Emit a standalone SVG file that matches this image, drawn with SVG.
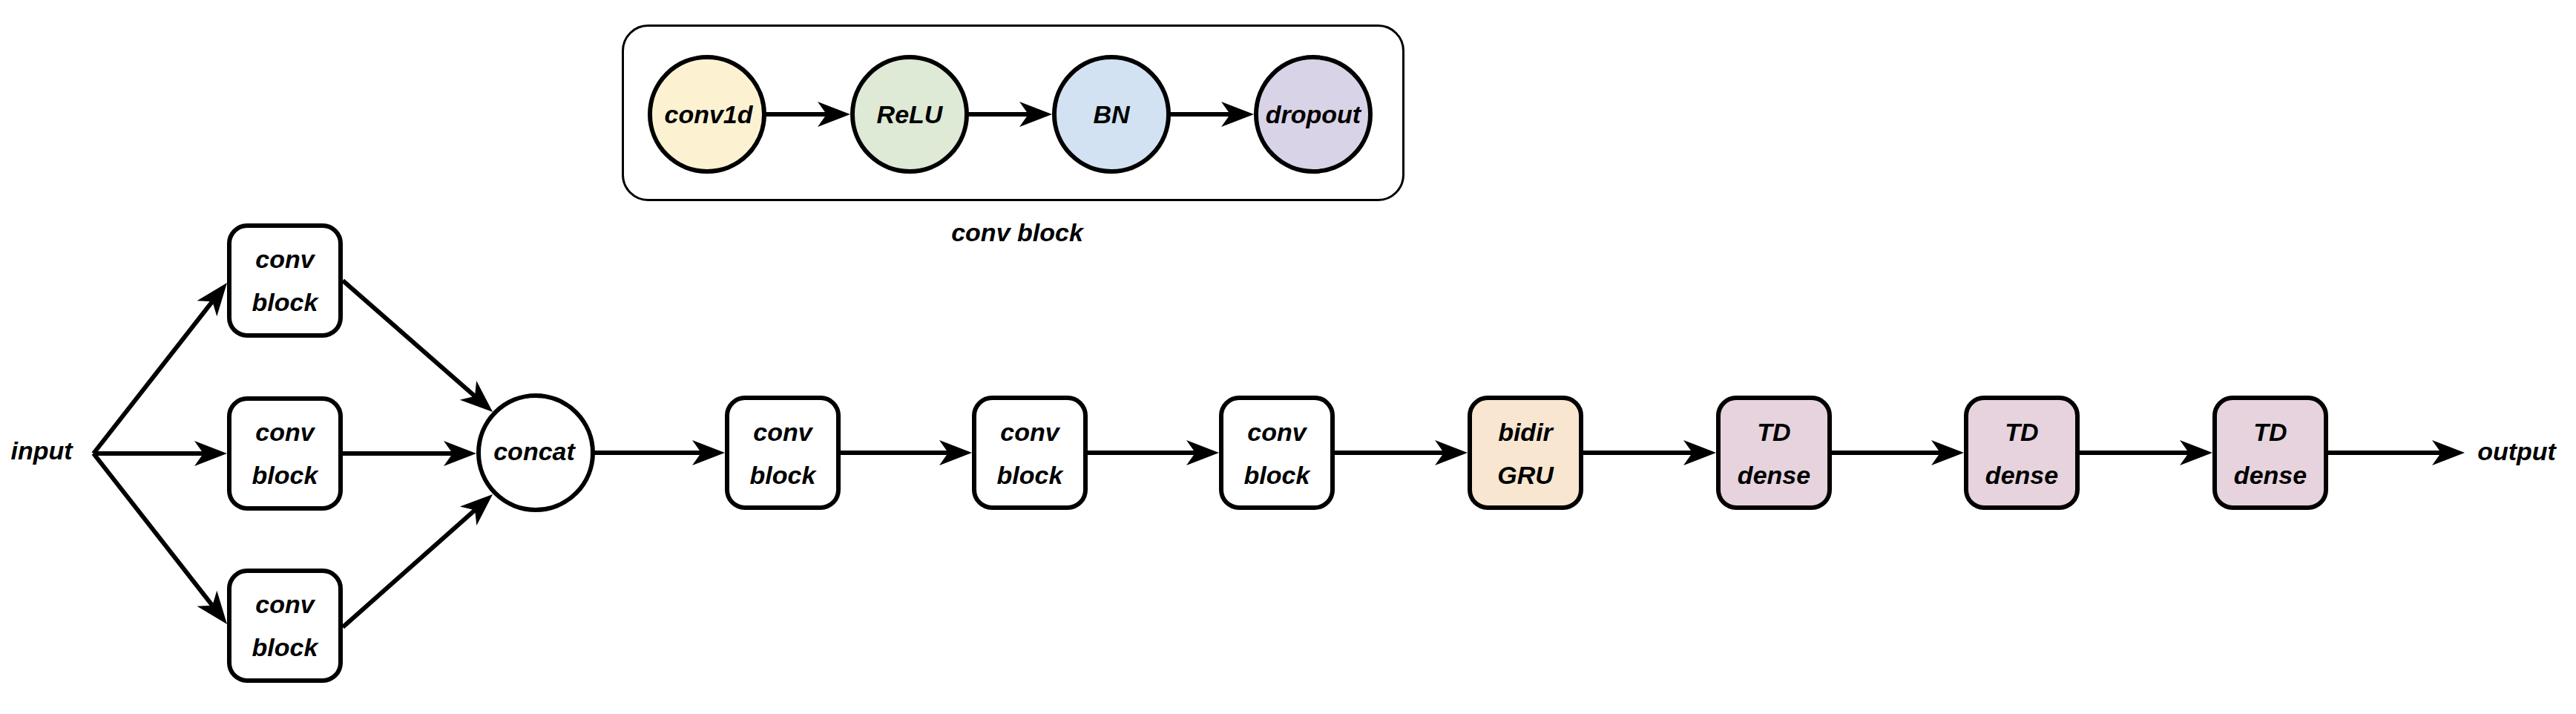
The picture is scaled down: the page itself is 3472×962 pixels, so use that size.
<svg xmlns="http://www.w3.org/2000/svg" width="3472" height="962" viewBox="0 0 3472 962">
<style>
  .box { stroke: #000; stroke-width: 6; }
  .lbl { font-family: "Liberation Sans", Arial, sans-serif; font-size: 34px; font-weight: bold; font-style: italic; fill: #000; text-anchor: middle; }
  .edge { stroke: #000; stroke-width: 6; fill: none; marker-end: url(#arrow); }
</style>
<defs>
  <marker id="arrow" markerUnits="userSpaceOnUse" markerWidth="46" markerHeight="36" refX="12" refY="17" orient="auto" overflow="visible">
    <path d="M0,0 L44,17 L0,34 L12,17 Z" fill="#000"/>
  </marker>
</defs>
<rect width="3472" height="962" fill="#ffffff"/>

<g id="conv-block-legend">
  <rect x="839.5" y="34.5" width="1052" height="235" rx="34" ry="34" fill="#ffffff" stroke="#000" stroke-width="3"/>
  <text class="lbl" x="1371" y="325">conv block</text>
</g>
<g id="conv1d">
  <circle class="box" cx="953" cy="154" r="77" fill="#fcf2d2"/>
  <text class="lbl" x="955" y="166">conv1d</text>
</g>
<g id="relu">
  <circle class="box" cx="1226" cy="154" r="77" fill="#dee9d6"/>
  <text class="lbl" x="1226" y="166">ReLU</text>
</g>
<g id="bn">
  <circle class="box" cx="1498" cy="154" r="77" fill="#d2e2f2"/>
  <text class="lbl" x="1498" y="166">BN</text>
</g>
<g id="dropout">
  <circle class="box" cx="1770" cy="154" r="77" fill="#d9d3e7"/>
  <text class="lbl" x="1770" y="166">dropout</text>
</g>

<g id="input"><text class="lbl" x="56" y="619">input</text></g>
<g id="output"><text class="lbl" x="3392" y="620">output</text></g>

<g id="conv-top">
  <rect class="box" x="309" y="304" width="150" height="148" rx="24" fill="#ffffff"/>
  <text class="lbl" x="384" y="361">conv</text>
  <text class="lbl" x="384" y="419">block</text>
</g>
<g id="conv-mid">
  <rect class="box" x="309" y="537" width="150" height="148" rx="24" fill="#ffffff"/>
  <text class="lbl" x="384" y="594">conv</text>
  <text class="lbl" x="384" y="652">block</text>
</g>
<g id="conv-bot">
  <rect class="box" x="309" y="769" width="150" height="148" rx="24" fill="#ffffff"/>
  <text class="lbl" x="384" y="826">conv</text>
  <text class="lbl" x="384" y="884">block</text>
</g>
<g id="concat">
  <circle class="box" cx="722" cy="610" r="77" fill="#ffffff"/>
  <text class="lbl" x="720" y="620">concat</text>
</g>
<g id="conv1">
  <rect class="box" x="980" y="536" width="150" height="148" rx="24" fill="#ffffff"/>
  <text class="lbl" x="1055" y="594">conv</text>
  <text class="lbl" x="1055" y="652">block</text>
</g>
<g id="conv2">
  <rect class="box" x="1313" y="536" width="150" height="148" rx="24" fill="#ffffff"/>
  <text class="lbl" x="1388" y="594">conv</text>
  <text class="lbl" x="1388" y="652">block</text>
</g>
<g id="conv3">
  <rect class="box" x="1646" y="536" width="150" height="148" rx="24" fill="#ffffff"/>
  <text class="lbl" x="1721" y="594">conv</text>
  <text class="lbl" x="1721" y="652">block</text>
</g>
<g id="bidir-gru">
  <rect class="box" x="1981" y="536" width="150" height="148" rx="24" fill="#f8e6d0"/>
  <text class="lbl" x="2056" y="594">bidir</text>
  <text class="lbl" x="2056" y="652">GRU</text>
</g>
<g id="td1">
  <rect class="box" x="2316" y="536" width="150" height="148" rx="24" fill="#e6d3dd"/>
  <text class="lbl" x="2391" y="594">TD</text>
  <text class="lbl" x="2391" y="652">dense</text>
</g>
<g id="td2">
  <rect class="box" x="2650" y="536" width="150" height="148" rx="24" fill="#e6d3dd"/>
  <text class="lbl" x="2725" y="594">TD</text>
  <text class="lbl" x="2725" y="652">dense</text>
</g>
<g id="td3">
  <rect class="box" x="2985" y="536" width="150" height="148" rx="24" fill="#e6d3dd"/>
  <text class="lbl" x="3060" y="594">TD</text>
  <text class="lbl" x="3060" y="652">dense</text>
</g>

<g id="connectors">
  <line class="edge" x1="1030" y1="154" x2="1114" y2="154"/>
  <line class="edge" x1="1303" y1="154" x2="1386" y2="154"/>
  <line class="edge" x1="1575" y1="154" x2="1658" y2="154"/>

  <line class="edge" x1="126" y1="611" x2="286.3" y2="406.2"/>
  <line class="edge" x1="126" y1="611" x2="274" y2="611"/>
  <line class="edge" x1="126" y1="611" x2="286.3" y2="815.8"/>

  <line class="edge" x1="462" y1="378" x2="640" y2="533.8"/>
  <line class="edge" x1="462" y1="611" x2="610" y2="611"/>
  <line class="edge" x1="462" y1="845" x2="640.1" y2="687.3"/>

  <line class="edge" x1="799" y1="610" x2="945" y2="610"/>
  <line class="edge" x1="1130" y1="610" x2="1278" y2="610"/>
  <line class="edge" x1="1463" y1="610" x2="1611" y2="610"/>
  <line class="edge" x1="1796" y1="610" x2="1946" y2="610"/>
  <line class="edge" x1="2131" y1="610" x2="2281" y2="610"/>
  <line class="edge" x1="2466" y1="610" x2="2615" y2="610"/>
  <line class="edge" x1="2800" y1="610" x2="2950" y2="610"/>
  <line class="edge" x1="3135" y1="610" x2="3290" y2="610"/>
</g>
</svg>
